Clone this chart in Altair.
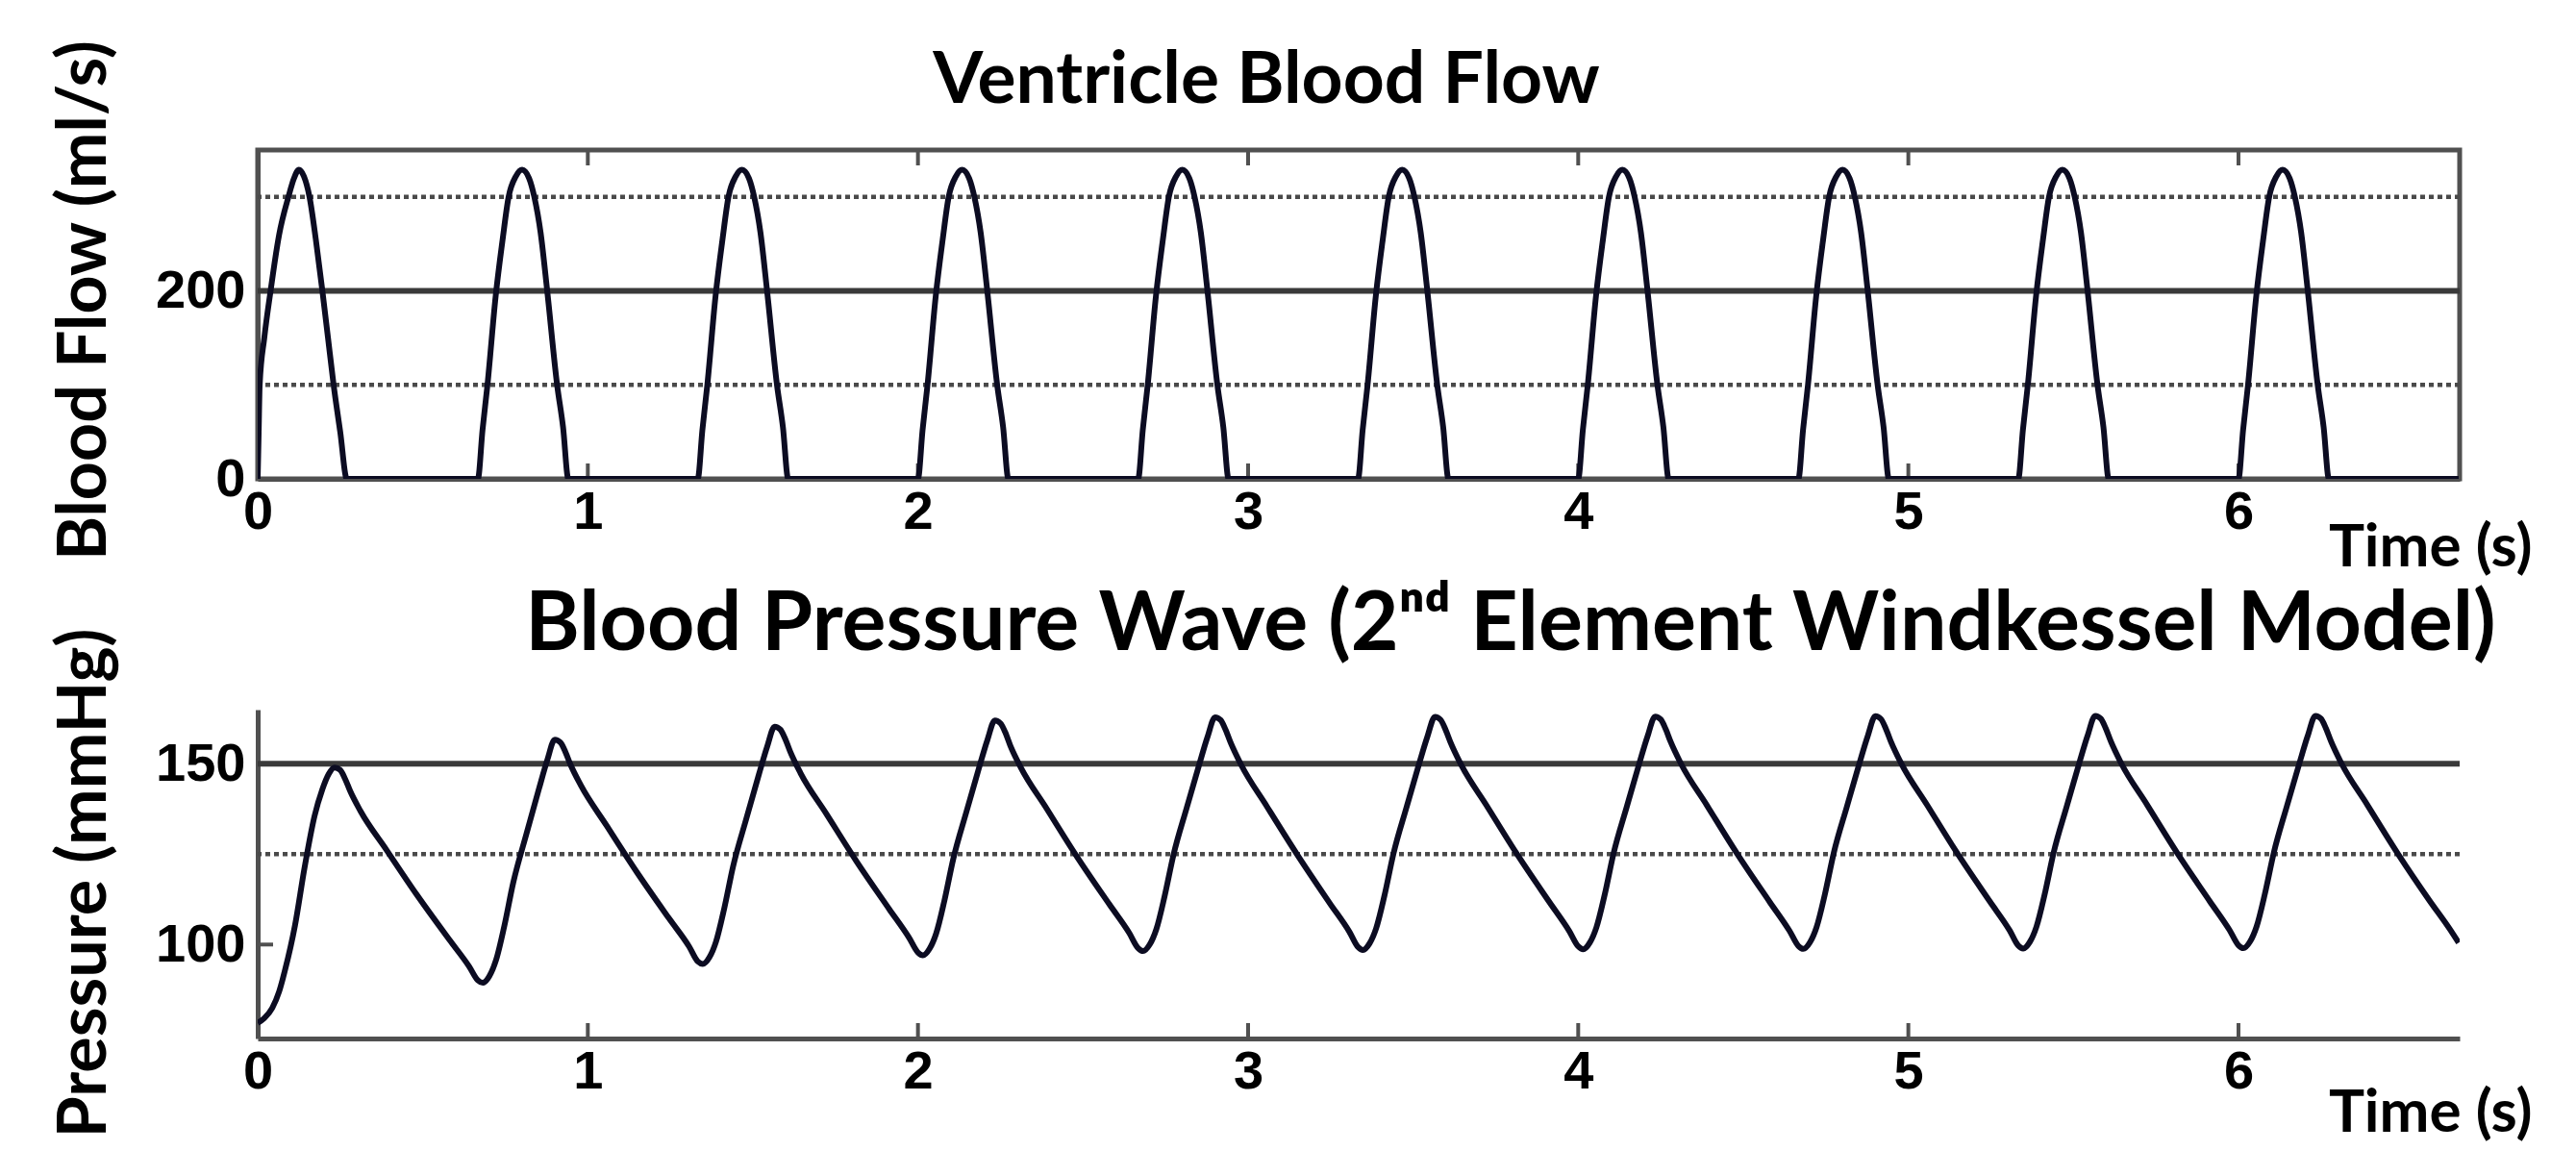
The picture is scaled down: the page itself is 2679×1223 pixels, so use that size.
import altair as alt
import pandas as pd

# ---------------- data ----------------
FLOW_TIME = [
    0.000, 0.003, 0.006, 0.020, 0.039, 0.065, 0.093, 0.110, 0.125, 0.140, 0.157, 0.176, 0.196, 0.213, 0.230, 0.250, 0.270,
    0.667, 0.681, 0.696, 0.721, 0.742, 0.760, 0.782, 0.801, 0.822, 0.838, 0.857, 0.877, 0.907, 0.925, 0.941,
    1.333, 1.347, 1.362, 1.387, 1.408, 1.426, 1.448, 1.467, 1.488, 1.504, 1.523, 1.543, 1.573, 1.591, 1.607,
    2.000, 2.014, 2.029, 2.054, 2.075, 2.093, 2.115, 2.134, 2.155, 2.171, 2.190, 2.210, 2.240, 2.258, 2.274,
    2.667, 2.681, 2.696, 2.721, 2.742, 2.760, 2.782, 2.801, 2.822, 2.838, 2.857, 2.877, 2.907, 2.925, 2.941,
    3.333, 3.347, 3.362, 3.387, 3.408, 3.426, 3.448, 3.467, 3.488, 3.504, 3.523, 3.543, 3.573, 3.591, 3.607,
    4.000, 4.014, 4.029, 4.054, 4.075, 4.093, 4.115, 4.134, 4.155, 4.171, 4.190, 4.210, 4.240, 4.258, 4.274,
    4.667, 4.681, 4.696, 4.721, 4.742, 4.760, 4.782, 4.801, 4.822, 4.838, 4.857, 4.877, 4.907, 4.925, 4.941,
    5.333, 5.347, 5.362, 5.387, 5.408, 5.426, 5.448, 5.467, 5.488, 5.504, 5.523, 5.543, 5.573, 5.591, 5.607,
    6.000, 6.014, 6.029, 6.054, 6.075, 6.093, 6.115, 6.134, 6.155, 6.171, 6.190, 6.210, 6.240, 6.258, 6.274,
    6.667,
]
FLOW_VALUE = [
    0, 50, 100, 150, 200, 260, 300, 320, 329, 322, 300, 255, 200, 150, 100, 50, 0,
    0, 52, 100, 195, 255, 300, 322, 329, 320, 300, 262, 200, 100, 55, 0,
    0, 52, 100, 195, 255, 300, 322, 329, 320, 300, 262, 200, 100, 55, 0,
    0, 52, 100, 195, 255, 300, 322, 329, 320, 300, 262, 200, 100, 55, 0,
    0, 52, 100, 195, 255, 300, 322, 329, 320, 300, 262, 200, 100, 55, 0,
    0, 52, 100, 195, 255, 300, 322, 329, 320, 300, 262, 200, 100, 55, 0,
    0, 52, 100, 195, 255, 300, 322, 329, 320, 300, 262, 200, 100, 55, 0,
    0, 52, 100, 195, 255, 300, 322, 329, 320, 300, 262, 200, 100, 55, 0,
    0, 52, 100, 195, 255, 300, 322, 329, 320, 300, 262, 200, 100, 55, 0,
    0, 52, 100, 195, 255, 300, 322, 329, 320, 300, 262, 200, 100, 55, 0,
    0,
]

PRESSURE_TIME = [
    0.000, 0.020, 0.044, 0.065, 0.083, 0.113, 0.142, 0.172, 0.196, 0.215, 0.233,
    0.250, 0.265, 0.280, 0.311, 0.390, 0.481, 0.580, 0.640, 0.667,
    0.682, 0.702, 0.722, 0.747, 0.774, 0.814, 0.852, 0.877, 0.900,
    0.917, 0.932, 0.947, 0.978, 1.057, 1.148, 1.247, 1.307, 1.333,
    1.348, 1.368, 1.388, 1.413, 1.440, 1.480, 1.518, 1.543, 1.566,
    1.583, 1.598, 1.613, 1.644, 1.723, 1.814, 1.913, 1.973, 2.000,
    2.015, 2.035, 2.055, 2.080, 2.107, 2.147, 2.185, 2.210, 2.233,
    2.250, 2.265, 2.280, 2.311, 2.390, 2.481, 2.580, 2.640, 2.667,
    2.682, 2.702, 2.722, 2.747, 2.774, 2.814, 2.852, 2.877, 2.900,
    2.917, 2.932, 2.947, 2.978, 3.057, 3.148, 3.247, 3.307, 3.333,
    3.348, 3.368, 3.388, 3.413, 3.440, 3.480, 3.518, 3.543, 3.566,
    3.583, 3.598, 3.613, 3.644, 3.723, 3.814, 3.913, 3.973, 4.000,
    4.015, 4.035, 4.055, 4.080, 4.107, 4.147, 4.185, 4.210, 4.233,
    4.250, 4.265, 4.280, 4.311, 4.390, 4.481, 4.580, 4.640, 4.667,
    4.682, 4.702, 4.722, 4.747, 4.774, 4.814, 4.852, 4.877, 4.900,
    4.917, 4.932, 4.947, 4.978, 5.057, 5.148, 5.247, 5.307, 5.333,
    5.348, 5.368, 5.388, 5.413, 5.440, 5.480, 5.518, 5.543, 5.566,
    5.583, 5.598, 5.613, 5.644, 5.723, 5.814, 5.913, 5.973, 6.000,
    6.015, 6.035, 6.055, 6.080, 6.107, 6.147, 6.185, 6.210, 6.233,
    6.250, 6.265, 6.280, 6.311, 6.390, 6.481, 6.580, 6.640, 6.667,
]
PRESSURE_VALUE = [
    78.3, 79.6, 82.4, 87.0, 93.0, 105.3, 121.3, 135.5, 143.0, 147.2, 149.0,
    148.3, 145.8, 142.5, 137.0, 126.2, 113.9, 101.4, 94.0, 90.1,
    89.4, 91.3, 95.7, 105.1, 117.1, 130.6, 143.1, 151.0, 156.7,
    155.9, 153.3, 149.9, 144.2, 132.9, 120.1, 107.1, 99.4, 95.3,
    94.6, 96.4, 100.7, 109.9, 121.6, 134.8, 147.0, 154.7, 160.3,
    159.5, 156.9, 153.4, 147.5, 136.1, 123.0, 109.8, 101.9, 97.8,
    97.0, 98.8, 103.0, 112.1, 123.7, 136.8, 148.9, 156.5, 162.0,
    161.2, 158.6, 155.0, 149.1, 137.6, 124.4, 111.1, 103.2, 99.0,
    98.2, 100.0, 104.2, 113.3, 124.8, 137.8, 149.8, 157.4, 162.9,
    162.1, 159.4, 155.9, 149.9, 138.2, 125.0, 111.5, 103.5, 99.3,
    98.5, 100.3, 104.5, 113.5, 125.0, 138.0, 150.0, 157.5, 163.0,
    162.2, 159.5, 156.0, 150.0, 138.4, 125.1, 111.7, 103.7, 99.5,
    98.7, 100.5, 104.7, 113.7, 125.2, 138.1, 150.1, 157.6, 163.1,
    162.3, 159.6, 156.1, 150.1, 138.5, 125.2, 111.8, 103.8, 99.6,
    98.8, 100.6, 104.8, 113.8, 125.3, 138.2, 150.2, 157.7, 163.2,
    162.4, 159.7, 156.2, 150.2, 138.6, 125.3, 111.9, 103.9, 99.7,
    98.9, 100.7, 104.9, 113.9, 125.4, 138.3, 150.3, 157.8, 163.3,
    162.5, 159.8, 156.3, 150.3, 138.7, 125.4, 112.0, 104.0, 99.8,
    99.0, 100.8, 105.0, 114.0, 125.4, 138.4, 150.3, 157.8, 163.3,
    162.5, 159.8, 156.3, 150.3, 138.7, 125.4, 112.0, 104.3, 100.5,
]

X_TICKS = [0, 1, 2, 3, 4, 5, 6]
X_INNER_TICKS = [1, 2, 3, 4, 5, 6]
X_DOMAIN = [0, 6.67]

FLOW_DOMAIN = [0, 350]
FLOW_Y_TICKS = [0, 200]
FLOW_SOLID_GRID = [200]
FLOW_DOTTED_GRID = [100, 300]

PRESSURE_DOMAIN = [74, 165]
PRESSURE_Y_TICKS = [100, 150]
PRESSURE_SOLID_GRID = [150]
PRESSURE_DOTTED_GRID = [125]
PRESSURE_INNER_Y_TICKS = [100]

TITLE_TOP = "Ventricle Blood Flow"
TITLE_BOTTOM = "Blood Pressure Wave (2\u207f\u1d48 Element Windkessel Model)"
X_TITLE = "Time (s)"
Y_TITLE_TOP = "Blood Flow (ml/s)"
Y_TITLE_BOTTOM = "Pressure (mmHg)"

# ---------------- styling ----------------
W, H = 2290, 342
TXT_FONT = "Lato"
TICK_FONT = "Liberation Sans"
FRAME = "#505050"
LINE = "#0c0c22"


def x_axis(title_y):
    return alt.Axis(
        values=X_TICKS, format="d", title=X_TITLE, ticks=False, grid=False,
        labelFlush=False, labelOverlap=False, labelPadding=7,
        labelFont=TICK_FONT, labelFontSize=56, labelFontWeight="bold", labelColor="black",
        domainColor=FRAME, domainWidth=5,
        titleFont=TXT_FONT, titleFontSize=62, titleFontWeight="bold", titleColor="black",
        titleAnchor="end", titleAlign="right", titleBaseline="alphabetic",
        titleX=W + 75, titleY=title_y,
    )


def y_axis(values, title, title_y):
    return alt.Axis(
        values=values, format="d", title=title, ticks=False, grid=False,
        labelPadding=13, labelFont=TICK_FONT, labelFontSize=56, labelFontWeight="bold",
        labelColor="black", domainColor=FRAME, domainWidth=5,
        titleFont=TXT_FONT, titleFontSize=70, titleFontWeight="bold", titleColor="black",
        titleBaseline="alphabetic", titleX=-159, titleY=title_y,
    )


def panel(time, values, ydomain, yticks, ytitle, ytitle_y, xtitle_y, solid, dotted, inner_y,
          title, tsize, tdx, toffset, boxed):
    xs = alt.Scale(domain=X_DOMAIN, nice=False, zero=False)
    ys = alt.Scale(domain=ydomain, nice=False, zero=False)
    xax = x_axis(xtitle_y)
    yax = y_axis(yticks, ytitle, ytitle_y)
    df = pd.DataFrame({"t": time, "v": values})

    solid_l = alt.Chart(pd.DataFrame({"g": solid})).mark_rule(
        color="#3a3a3a", strokeWidth=6
    ).encode(y=alt.Y("g:Q", scale=ys, axis=yax))
    dotted_l = alt.Chart(pd.DataFrame({"g": dotted})).mark_rule(
        color="#4a4a4a", strokeWidth=4.5, strokeDash=[5, 4]
    ).encode(y=alt.Y("g:Q", scale=ys, axis=yax))

    tick_df = pd.DataFrame({"k": X_INNER_TICKS})
    ticks_bottom = alt.Chart(tick_df).mark_rule(color=FRAME, strokeWidth=4).encode(
        x=alt.X("k:Q", scale=xs, axis=xax), y=alt.value(H), y2=alt.value(H - 16)
    )
    layers = [solid_l, dotted_l, ticks_bottom]
    if boxed:
        ticks_top = alt.Chart(tick_df).mark_rule(color=FRAME, strokeWidth=4).encode(
            x=alt.X("k:Q", scale=xs, axis=xax), y=alt.value(0), y2=alt.value(16)
        )
        layers.append(ticks_top)
    if inner_y:
        yt = alt.Chart(pd.DataFrame({"g": inner_y})).mark_rule(color=FRAME, strokeWidth=4).encode(
            y=alt.Y("g:Q", scale=ys, axis=yax), x=alt.value(0), x2=alt.value(16)
        )
        layers.append(yt)

    line = alt.Chart(df).mark_line(
        color=LINE, strokeWidth=6, interpolate="monotone", clip=True
    ).encode(
        x=alt.X("t:Q", scale=xs, axis=xax),
        y=alt.Y("v:Q", scale=ys, axis=yax),
    )
    layers.append(line)

    ch = alt.layer(*layers).properties(
        width=W, height=H,
        title=alt.TitleParams(
            text=title, font=TXT_FONT, fontSize=tsize, fontWeight="bold", color="black",
            anchor="middle", dx=tdx, offset=toffset, baseline="alphabetic",
        ),
    )
    if boxed:
        ch = ch.properties(view=alt.ViewBackground(stroke=FRAME, strokeWidth=5))
    return ch


top = panel(FLOW_TIME, FLOW_VALUE, FLOW_DOMAIN, FLOW_Y_TICKS, Y_TITLE_TOP, 156, 90,
            FLOW_SOLID_GRID, FLOW_DOTTED_GRID, [], TITLE_TOP, 75, -96, -141, True)
bottom = panel(PRESSURE_TIME, PRESSURE_VALUE, PRESSURE_DOMAIN, PRESSURE_Y_TICKS, Y_TITLE_BOTTOM, 180, 96,
               PRESSURE_SOLID_GRID, PRESSURE_DOTTED_GRID, PRESSURE_INNER_Y_TICKS, TITLE_BOTTOM, 86, 158, -109, False)

chart = alt.vconcat(top, bottom, spacing=240, bounds="flush").properties(
    padding={"left": 42, "top": 30, "right": 20, "bottom": 10},
    background="white",
).configure_view(stroke=None)

chart.save("out.html", embed_options={"renderer": "svg", "actions": False})
